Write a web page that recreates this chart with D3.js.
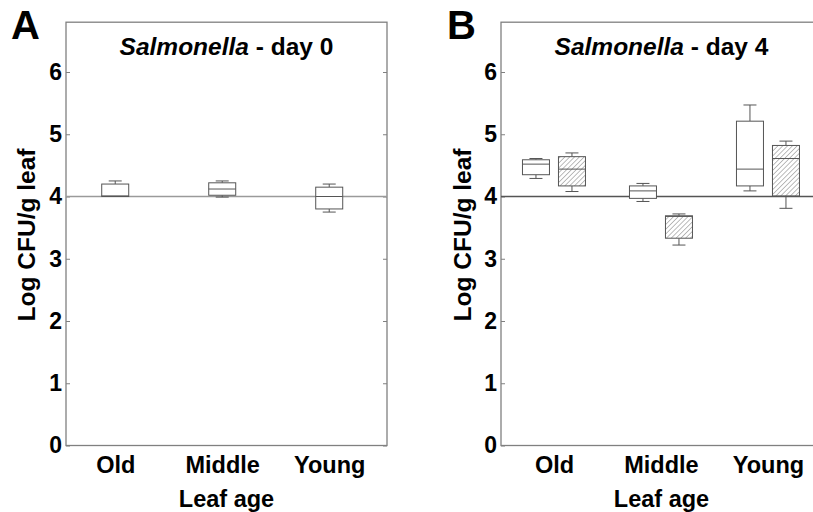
<!DOCTYPE html>
<meta charset="utf-8">
<style>
body { margin: 0; background: #fff; }
svg text { font-family: "Liberation Sans", Arial, sans-serif; font-weight: bold; fill: #000; }
.frame { fill: none; stroke: #808080; stroke-width: 1.3; }
.axis path { display: none; }
.axis line { stroke: #808080; }
.box { stroke: #555; stroke-width: 1; }
</style>
<body>
<svg id="chart" width="813" height="512"></svg>
<script src="https://d3js.org/d3.v7.min.js"></script>
<script>
// leaf age groups
var categories = ["Old", "Middle", "Young"];
var yTicks = [0, 1, 2, 3, 4, 5, 6];
var inoculum = 4; // log CFU/g at inoculation, horizontal reference

// five-number summaries [min, q1, median, q3, max] per leaf age
var day0 = [
    [4.00, 4.00, 4.01, 4.20, 4.25],
    [3.99, 4.02, 4.12, 4.22, 4.25],
    [3.75, 3.80, 4.00, 4.15, 4.20]
];
var day4Open = [
    [4.29, 4.35, 4.52, 4.59, 4.61],
    [3.92, 3.97, 4.09, 4.17, 4.21],
    [4.09, 4.17, 4.44, 5.21, 5.47]
];
var day4Hatched = [
    [4.08, 4.17, 4.44, 4.64, 4.70],
    [3.22, 3.33, 3.68, 3.69, 3.72],
    [3.81, 4.01, 4.61, 4.82, 4.89]
];

var svg = d3.select("#chart");

// diagonal hatching
var pat = svg.append("defs").append("pattern")
    .attr("id", "hatch")
    .attr("patternUnits", "userSpaceOnUse")
    .attr("width", 3.4).attr("height", 10)
    .attr("patternTransform", "rotate(45)");
pat.append("rect").attr("width", 3.4).attr("height", 10).attr("fill", "#fff");
pat.append("line").attr("x1", 0).attr("y1", 0).attr("x2", 0).attr("y2", 10)
    .attr("stroke", "#6a6a6a").attr("stroke-width", 0.9);

var plotTop = 22.2, plotBottom = 445.5;
var y = d3.scaleLinear().domain([0, 6.8]).range([plotBottom, plotTop]);

function drawBox(g, cx, s, hatched) {
    var bw = 27, cw = 13;
    g.append("line").attr("class", "box")
        .attr("x1", cx).attr("x2", cx).attr("y1", y(s[4])).attr("y2", y(s[3]));
    g.append("line").attr("class", "box")
        .attr("x1", cx).attr("x2", cx).attr("y1", y(s[1])).attr("y2", y(s[0]));
    g.append("line").attr("class", "box")
        .attr("x1", cx - cw / 2).attr("x2", cx + cw / 2).attr("y1", y(s[4])).attr("y2", y(s[4]));
    g.append("line").attr("class", "box")
        .attr("x1", cx - cw / 2).attr("x2", cx + cw / 2).attr("y1", y(s[0])).attr("y2", y(s[0]));
    g.append("rect").attr("class", "box")
        .attr("x", cx - bw / 2).attr("width", bw)
        .attr("y", y(s[3])).attr("height", y(s[1]) - y(s[3]))
        .attr("fill", hatched ? "url(#hatch)" : "#fff");
    g.append("line").attr("class", "box")
        .attr("x1", cx - bw / 2).attr("x2", cx + bw / 2).attr("y1", y(s[2])).attr("y2", y(s[2]));
}

function panel(opts) {
    var x = d3.scaleLinear().domain(opts.domain).range([opts.left, opts.right]);
    var g = svg.append("g");

    g.append("rect").attr("class", "frame")
        .attr("x", opts.left).attr("y", plotTop)
        .attr("width", opts.right - opts.left).attr("height", plotBottom - plotTop);

    g.append("g").attr("class", "axis")
        .attr("transform", "translate(" + opts.left + ",0)")
        .call(d3.axisLeft(y).tickValues(yTicks).tickSize(-4).tickPadding(4).tickFormat(d3.format("d")))
        .selectAll("text").style("font-size", "23px");
    g.append("g").attr("class", "axis")
        .attr("transform", "translate(" + opts.right + ",0)")
        .call(d3.axisRight(y).tickValues(yTicks).tickSize(-4).tickFormat(""));

    g.append("g").attr("class", "axis")
        .attr("transform", "translate(0," + plotBottom + ")")
        .call(d3.axisBottom(x).tickValues([1, 2, 3]).tickSize(0).tickPadding(11)
            .tickFormat(function(d) { return categories[d - 1]; }))
        .selectAll("text").style("font-size", "23.5px");

    g.append("line")
        .attr("x1", opts.left).attr("x2", opts.right)
        .attr("y1", y(inoculum)).attr("y2", y(inoculum))
        .attr("stroke", opts.refColor).attr("stroke-width", 1.3);

    opts.series.forEach(function(ser) {
        ser.data.forEach(function(s, i) {
            drawBox(g, x(i + 1) + ser.offset, s, ser.hatched);
        });
    });

    var mid = (opts.left + opts.right) / 2;
    var title = g.append("text").attr("x", mid).attr("y", 55)
        .attr("text-anchor", "middle").style("font-size", "24.5px");
    title.append("tspan").style("font-style", "italic").text("Salmonella");
    title.append("tspan").text(" - " + opts.day);

    g.append("text").attr("x", mid).attr("y", 507)
        .attr("text-anchor", "middle").style("font-size", "23.5px").text("Leaf age");

    g.append("text")
        .attr("transform", "translate(" + opts.ylabX + ",235) rotate(-90)")
        .attr("text-anchor", "middle").style("font-size", "24.5px").text("Log CFU/g leaf");

    g.append("text").attr("x", opts.letterX).attr("y", 39)
        .style("font-size", "40px").text(opts.letter);
}

panel({
    letter: "A", letterX: 11, day: "day 0",
    left: 66, right: 387, domain: [0.54, 3.54], ylabX: 35, refColor: "#9a9a9a",
    series: [{ data: day0, offset: 0, hatched: false }]
});

panel({
    letter: "B", letterX: 447, day: "day 4",
    left: 501, right: 822, domain: [0.505, 3.505], ylabX: 471, refColor: "#555",
    series: [
        { data: day4Open, offset: -18, hatched: false },
        { data: day4Hatched, offset: 18, hatched: true }
    ]
});
</script>
</body>
